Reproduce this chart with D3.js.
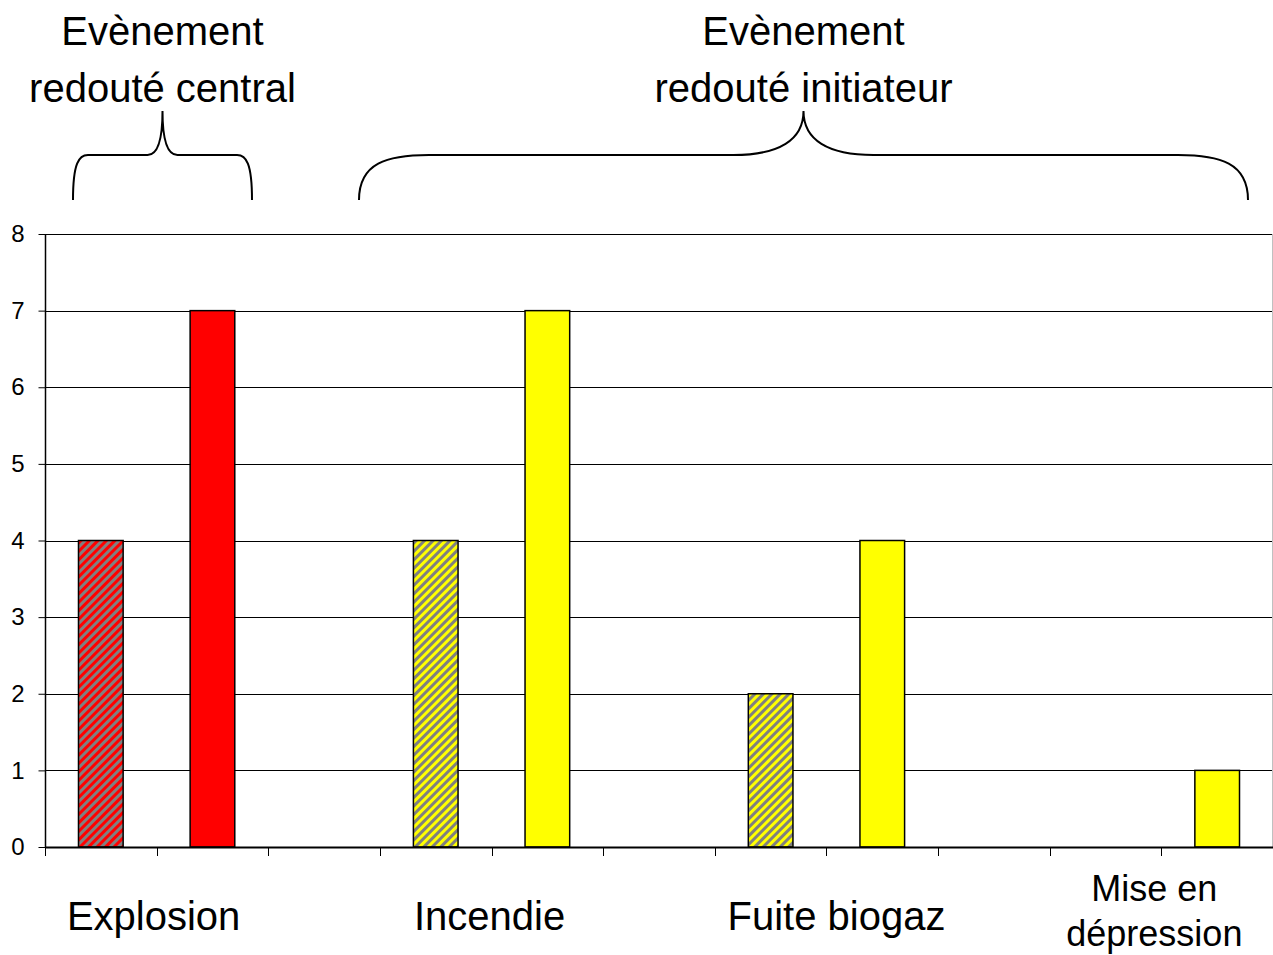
<!DOCTYPE html>
<html>
<head>
<meta charset="utf-8">
<script src="https://cdn.jsdelivr.net/npm/d3@7"></script>
<style>
  html, body { margin: 0; padding: 0; background: #fff; }
  svg { display: block; font-family: "Liberation Sans", Arial, sans-serif; }
  .ytick text { font-size: 24px; fill: #000; font-family: "Liberation Sans", Arial, sans-serif; }
</style>
</head>
<body>
<svg id="chart" width="1273" height="955"></svg>
<script>
// ---- data ----
const categories = ["Explosion", "Incendie", "Fuite biogaz", "Mise en dépression"];
const hatchedValues = [4, 4, 2, 0];
const solidValues = [7, 7, 4, 1];
const categoryColors = ["#FF0000", "#FFFF00", "#FFFF00", "#FFFF00"];
const yTicks = [0, 1, 2, 3, 4, 5, 6, 7, 8];
const groupTitles = [
  { lines: ["Evènement", "redouté central"] },
  { lines: ["Evènement", "redouté initiateur"] }
];

// ---- layout ----
const svg = d3.select("#chart");
const margin = { left: 45, right: 0, top: 234, bottom: 108 };
const W = 1273, H = 955;
const plotL = margin.left, plotR = W - margin.right, plotT = margin.top, plotB = H - margin.bottom;

const nSlots = categories.length * 3 - 1;
const slots = d3.range(nSlots);
const x = d3.scaleBand().domain(slots).range([plotL, plotR]).paddingInner(0.6).paddingOuter(0.3);
const xSlot = d3.scaleLinear().domain([0, nSlots]).range([plotL, plotR]);
const y = d3.scaleLinear().domain([0, 8]).range([plotB, plotT]);

// bars data
const bars = [];
categories.forEach((c, i) => {
  bars.push({ slot: i * 3, value: hatchedValues[i], color: categoryColors[i], hatched: true, cat: i });
  bars.push({ slot: i * 3 + 1, value: solidValues[i], color: categoryColors[i], hatched: false, cat: i });
});

// patterns
const defs = svg.append("defs");
categoryColors.forEach((col, i) => {
  const p = defs.append("pattern")
    .attr("id", "hatch" + i)
    .attr("patternUnits", "userSpaceOnUse")
    .attr("width", 6).attr("height", 6)
    .attr("patternTransform", "rotate(45)");
  p.append("rect").attr("width", 6).attr("height", 6).attr("fill", "#808080");
  p.append("rect").attr("width", 3).attr("height", 6).attr("fill", col);
});

// gridlines
svg.append("g").selectAll("line").data(yTicks.filter(d => d > 0)).join("line")
  .attr("x1", plotL).attr("x2", plotR)
  .attr("y1", d => Math.round(y(d)) + 0.5).attr("y2", d => Math.round(y(d)) + 0.5)
  .attr("stroke", "#000").attr("stroke-width", 1);

// right faint border
svg.append("line").attr("x1", plotR - 0.5).attr("x2", plotR - 0.5)
  .attr("y1", plotT).attr("y2", plotB).attr("stroke", "#c0c0c0").attr("stroke-width", 1);

// bars
svg.append("g").selectAll("rect").data(bars.filter(d => d.value > 0)).join("rect")
  .attr("x", d => x(d.slot))
  .attr("width", x.bandwidth())
  .attr("y", d => y(d.value))
  .attr("height", d => y(0) - y(d.value))
  .attr("fill", d => d.hatched ? `url(#hatch${d.cat})` : d.color)
  .attr("stroke", "#000").attr("stroke-width", 1.5);

// y axis
const yAxis = d3.axisLeft(y).tickValues(yTicks).tickSize(7).tickPadding(14).tickFormat(d3.format("d"));
const gy = svg.append("g").attr("class", "ytick").attr("transform", `translate(${plotL + 0.5},0)`).call(yAxis);
gy.attr("font-size", null).attr("font-family", null);
gy.select(".domain").attr("stroke", "#000").attr("stroke-width", 1.5).attr("d", `M0,${plotT}V${plotB}`);
gy.selectAll(".tick line").attr("stroke", "#000");

// x axis (boundary ticks)
const gx = svg.append("g");
gx.append("line").attr("x1", plotL).attr("x2", plotR).attr("y1", plotB + 0.5).attr("y2", plotB + 0.5)
  .attr("stroke", "#000").attr("stroke-width", 2);
gx.selectAll(".xt").data(d3.range(nSlots)).join("line").attr("class", "xt")
  .attr("x1", d => Math.round(xSlot(d)) + 0.5).attr("x2", d => Math.round(xSlot(d)) + 0.5)
  .attr("y1", plotB).attr("y2", plotB + 9)
  .attr("stroke", "#000").attr("stroke-width", 1);

// category labels (text boxes centred near the boundary between each pair of bars)
const labelFont = 40;
const labelNudge = [-3, -2, 10, -7];
const labelG = svg.append("g").attr("fill", "#000").attr("text-anchor", "middle");
categories.forEach((c, i) => {
  const cx = xSlot(i * 3 + 1) + labelNudge[i];
  const words = c === "Mise en dépression" ? ["Mise en", "dépression"] : [c];
  if (words.length === 1) {
    labelG.append("text").attr("font-size", labelFont).attr("x", cx).attr("y", plotB + 83).text(words[0]);
  } else {
    labelG.append("text").attr("font-size", 36).attr("x", cx).attr("y", plotB + 54).text(words[0]);
    labelG.append("text").attr("font-size", 36).attr("x", cx).attr("y", plotB + 99).text(words[1]);
  }
});

// group titles with braces
const braceY = 155, braceBottom = 200, tipY = 111;
const titleG = svg.append("g").attr("font-size", labelFont).attr("fill", "#000").attr("text-anchor", "middle");
const braceSpans = [[73, 252], [359, 1248]];
groupTitles.forEach((g, i) => {
  const [x0, x1] = braceSpans[i];
  const xm = (x0 + x1) / 2;
  const r = Math.min(70, (x1 - x0) / 12);
  const t = Math.min(70, (x1 - x0) / 12);
  const path = d3.path();
  path.moveTo(x0, braceBottom);
  path.bezierCurveTo(x0, braceY + 8, x0 + r * 0.4, braceY, x0 + r, braceY);
  path.lineTo(xm - t, braceY);
  path.bezierCurveTo(xm - t * 0.35, braceY, xm, braceY - 15, xm, tipY);
  path.bezierCurveTo(xm, braceY - 15, xm + t * 0.35, braceY, xm + t, braceY);
  path.lineTo(x1 - r, braceY);
  path.bezierCurveTo(x1 - r * 0.4, braceY, x1, braceY + 8, x1, braceBottom);
  svg.append("path").attr("d", path.toString()).attr("fill", "none")
    .attr("stroke", "#000").attr("stroke-width", 2);
  titleG.append("text").attr("x", xm).attr("y", 45).text(g.lines[0]);
  titleG.append("text").attr("x", xm).attr("y", 102).text(g.lines[1]);
});
</script>
</body>
</html>
